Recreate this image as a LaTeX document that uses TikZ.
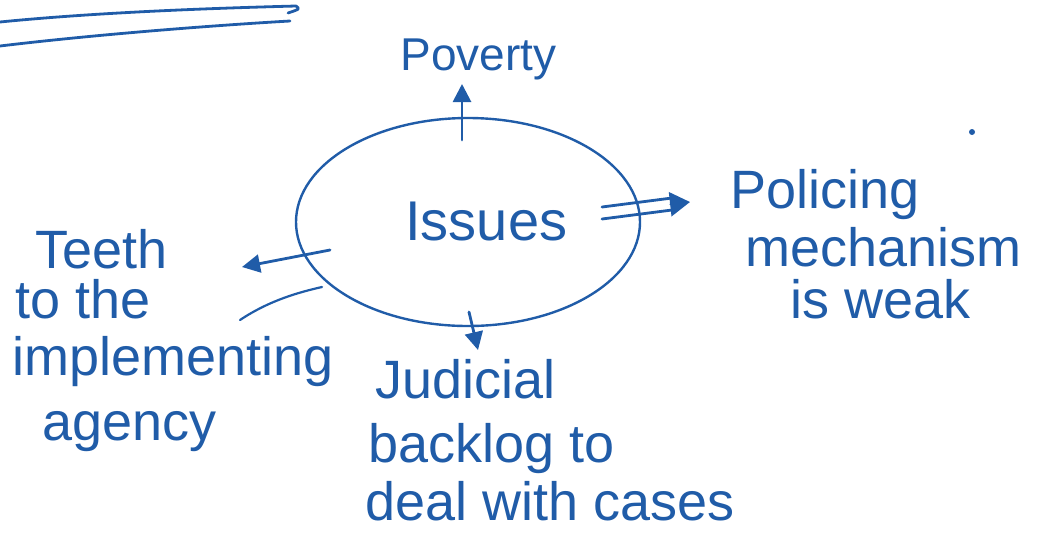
\documentclass[tikz,border=0pt]{standalone}
\usepackage{fontspec}
\setmainfont{Liberation Sans}
\usetikzlibrary{arrows.meta,shapes.geometric}
\definecolor{ink}{RGB}{32,92,168}
\tikzset{
  pen/.style={draw=ink, line width=1.4pt, line cap=round, line join=round},
  tip/.style={-{Triangle[length=9pt,width=9pt]}},
  bigtip/.style={-{Triangle[length=10pt,width=12pt]}},
  lbl/.style={text=ink, anchor=base west, inner sep=0pt, font=\fontsize{27}{30}\selectfont},
}
\begin{document}
\begin{tikzpicture}[x=0.5pt,y=-0.5pt]
\useasboundingbox (0,0) rectangle (1063,542);
% top-left strokes
\draw[pen] (0,22) .. controls (100,12) and (220,8) .. (296,6) .. controls (300,9) .. (288,13);
\draw[pen] (0,46) .. controls (100,34) and (220,25) .. (290,21);
% central ellipse
\node[ellipse, draw=ink, line width=1.2pt, minimum width=172pt, minimum height=104pt, inner sep=0pt] (ring) at (468,222) {};
\node[lbl, font=\fontsize{28}{30}\selectfont] (issues) at (405,240) {Issues};
% coordinates for connectors
\coordinate (upS) at (462,140);
\coordinate (upE) at (462,84);
\coordinate (rtS) at (602,213);
\coordinate (rtM) at (672,204);
\coordinate (rtE) at (690,202);
\coordinate (lfS) at (330,250);
\coordinate (lfE) at (242,267);
\coordinate (dnS) at (469,312);
\coordinate (dnE) at (478,350);
% arrows
\draw[pen, tip] (upS) -- (upE);
\draw[pen, tip] (lfS) -- (lfE);
\draw[pen, tip] (dnS) -- (dnE);
\draw[pen] ([yshift=-3]rtS) -- ([yshift=-3]rtM);
\draw[pen] ([yshift=3]rtS) -- ([yshift=3]rtM);
\draw[pen, bigtip] (rtM) -- (rtE);
% stray stroke under "the"
\draw[pen, line width=1.1pt] (240,320) .. controls (270,300) and (300,292) .. (322,287);
% dot
\fill[ink] (972,132) circle (1.5pt);
% labels
\node[lbl, font=\fontsize{23}{26}\selectfont] (pov) at (400,70) {Poverty};
\node[lbl] (pol1) at (730,208) {Policing};
\node[lbl] (pol2) at (745,266) {mechanism};
\node[lbl] (pol3) at (790,318) {is weak};
\node[lbl] (tee1) at (35,268) {Teeth};
\node[lbl] (tee2) at (15,318) {to the};
\node[lbl] (tee3) at (12,375) {implementing};
\node[lbl] (tee4) at (42,440) {agency};
\node[lbl] (jud1) at (375,398) {Judicial};
\node[lbl] (jud2) at (368,462) {backlog to};
\node[lbl] (jud3) at (365,520) {deal with cases};
\end{tikzpicture}
\end{document}
